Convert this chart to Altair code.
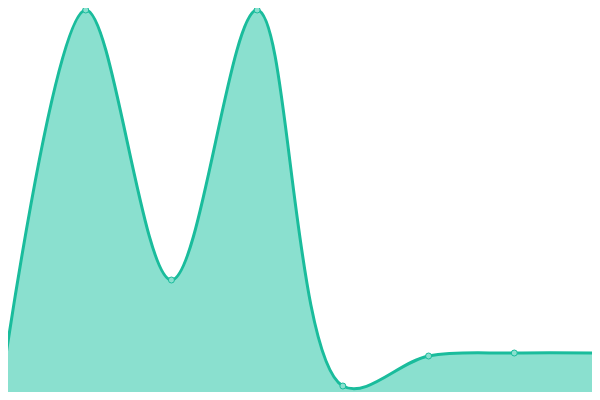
import altair as alt
import pandas as pd

steps = [0, 1, 2, 3, 4, 5, 6, 7]
values = [4, 390, 120, 390, 14, 44, 47, 47]

df = pd.DataFrame({"step": steps, "value": values})

LINE = "#1abc9c"
FILL = "#8ae0cf"

x = alt.X("step:Q", scale=alt.Scale(domain=[0, 7], nice=False, zero=False), axis=None)
y = alt.Y("value:Q", scale=alt.Scale(domain=[0, 400], nice=False), axis=None)

base = alt.Chart(df)
area = base.mark_area(interpolate="catmull-rom", color=FILL, opacity=1).encode(x=x, y=y)
line = base.mark_line(interpolate="catmull-rom", color=LINE, strokeWidth=3).encode(x=x, y=y)
pts = base.mark_point(filled=True, size=36, fill=FILL, stroke=LINE, strokeWidth=1, opacity=1).encode(x=x, y=y)

chart = alt.layer(area, line, pts).properties(
    width=600, height=400,
    padding={"left": -8, "top": -8, "right": -8, "bottom": -8},
    autosize=alt.AutoSizeParams(type="none"),
).configure_view(stroke=None)

chart.save("out.html", embed_options={"renderer": "svg", "actions": False})
